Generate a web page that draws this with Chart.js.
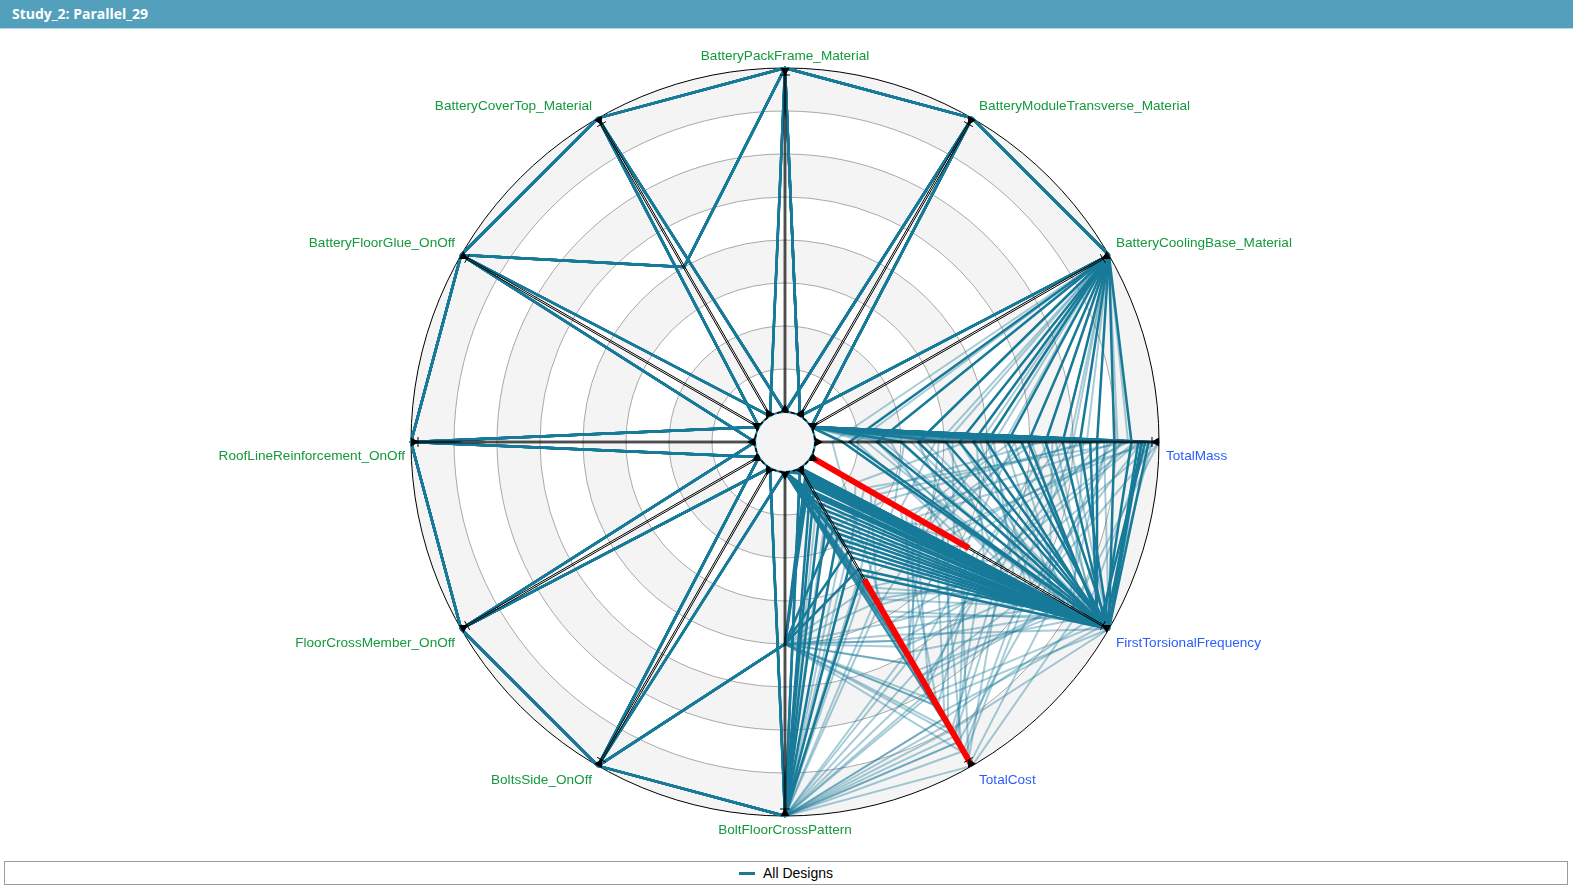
<!DOCTYPE html>
<html>
<head>
<meta charset="utf-8">
<script src="https://cdn.jsdelivr.net/npm/chart.js@4.4.0/dist/chart.umd.min.js"></script>
<style>
  html, body { margin: 0; padding: 0; background: #fff; width: 1573px; height: 889px; overflow: hidden; }
  .title { position: absolute; left: 0; top: 0; width: 1573px; height: 29px; background: #52a0bb; border-bottom: 1px solid #b9d9e4;
           color: #fff; font: bold 14px "Open Sans", "Noto Sans", sans-serif; line-height: 28px; padding-left: 12px; box-sizing: border-box; }
  .chart { position: absolute; left: 0; top: 30px; width: 1573px; height: 822px; }
  .legend { position: absolute; left: 4px; top: 861px; width: 1564px; height: 24px; border: 1px solid #9c9c9c; box-sizing: border-box;
            text-align: center; font: 14px "Liberation Sans", Arial, sans-serif; line-height: 22px; color: #000; }
  .legend .swatch { display: inline-block; width: 16px; height: 3px; background: #1b7a99; vertical-align: middle; margin-right: 8px; position: relative; top: -1px; }
</style>
</head>
<body>
<div class="title">Study_2: Parallel_29</div>
<div class="chart"><canvas id="radar"></canvas></div>
<div class="legend"><span class="swatch"></span>All Designs</div>
<script>
// axes, clockwise from the top
const axisLabels = [
  'BatteryPackFrame_Material', 'BatteryModuleTransverse_Material', 'BatteryCoolingBase_Material',
  'TotalMass', 'FirstTorsionalFrequency', 'TotalCost', 'BoltFloorCrossPattern', 'BoltsSide_OnOff',
  'FloorCrossMember_OnOff', 'RoofLineReinforcement_OnOff', 'BatteryFloorGlue_OnOff', 'BatteryCoverTop_Material'
];
const responseAxes = [3, 4, 5];

// normalised values, one entry per design
const packFrame = [
  1, 0, 1, 1, 1, 0, 0, 1,  1, 0, 1, 1, 1, 0, 0, 1,  1, 0, 1, 1, 1, 0, 0, 1,
  1, 0, 1, 1, 1, 0, 0, 1,  1, 0, 1, 1, 1, 0, 0, 1,  1, 0, 1, 1, 1, 0, 0, 1,
  1, 0, 1, 1, 1, 0, 0, 1,  1, 0, 1, 1,
  1, 0, 1, 1, 1, 0, 0, 1,  1, 0, 1, 1, 1, 0, 0, 1,  1, 0, 1, 1, 1, 0, 0, 1
];
const moduleTransverse = [
  1, 1, 0, 1, 0, 0, 1, 1,  1, 1, 0, 1, 0, 0, 1, 1,  1, 1, 0, 1, 0, 0, 1, 1,
  1, 1, 0, 1, 0, 0, 1, 1,  1, 1, 0, 1, 0, 0, 1, 1,  1, 1, 0, 1, 0, 0, 1, 1,
  1, 1, 0, 1, 0, 0, 1, 1,  1, 1, 0, 1,
  1, 1, 0, 1, 0, 0, 1, 1,  1, 1, 0, 1, 0, 0, 1, 1,  1, 1, 0, 1, 0, 0, 1, 1
];
const coolingBase = [
  1, 1, 1, 1, 1, 1, 1, 1,  1, 1, 1, 1, 0, 0, 0, 0,  0, 0, 0, 0, 0, 1, 0, 1,
  0, 0, 1, 0, 0, 1, 0, 0,  0, 1, 0, 0, 1, 0, 0, 1,  0, 0, 0, 1, 0, 0, 1, 0,
  0, 0, 1, 0, 0, 0, 0, 0,  1, 0, 0, 0,
  0, 1, 0, 0, 1, 0, 0, 0,  0, 0, 1, 0, 0, 0, 1, 0,  0, 0, 0, 1, 0, 0, 0, 0
];
const totalMass = [
  0.18, 0.30, 0.42, 0.50, 0.56, 0.62, 0.67, 0.72,  0.77, 0.82, 0.87, 0.92, 0.94, 0.95, 0.95, 0.96,
  0.97, 0.38, 0.60, 0.25, 0.08, 0.46, 0.80, 0.10,  0.22, 0.35, 0.48, 0.58, 0.66, 0.74, 0.83, 0.90,
  0.99, 0.12, 0.28, 0.44, 0.52, 0.61, 0.70, 0.79,  0.86, 0.93, 1.00, 0.05, 0.32, 0.40, 0.55, 0.64,
  0.76, 0.84, 0.91, 0.97, 0.18, 0.26, 0.47, 0.69,  0.88, 0.95, 0.58, 0.98,
  0.15, 0.38, 0.52, 0.63, 0.72, 0.81, 0.89, 0.96,  0.99, 0.08, 0.30, 0.42, 0.57, 0.66, 0.75, 0.85,
  0.92, 1.00, 0.20, 0.36, 0.50, 0.68, 0.78, 0.94
];
const torsionalFreq = [
  1.00, 0.99, 1.00, 0.98, 1.00, 0.97, 1.00, 0.99,  1.00, 0.96, 1.00, 0.98, 1.00, 0.99, 1.00, 0.97,
  1.00, 1.00, 0.98, 1.00, 0.99, 1.00, 0.96, 1.00,  0.45, 0.30, 0.72, 0.85, 0.20, 1.00, 0.62, 0.50,
  0.35, 0.55, 0.90, 0.15, 0.68, 0.42, 0.95, 0.25,  0.78, 0.60, 0.88, 0.10, 1.00, 0.48, 0.82, 0.38,
  0.70, 1.00, 0.46, 0.92, 0.66, 0.28, 0.58, 0.80,  0.32, 0.74, 0.52, 0.98,
  0.85, 0.64, 0.40, 0.93, 0.56, 0.22, 0.76, 0.44,  0.66, 0.90, 0.52, 0.84, 0.34, 0.97, 0.64, 0.86,
  0.18, 0.76, 0.94, 0.40, 0.74, 0.58, 0.88, 0.62
];
const totalCost = [
  0.30, 0.05, 0.12, 0.00, 0.20, 0.08, 0.26, 0.02,  0.16, 0.34, 0.00, 0.10, 0.04, 0.22, 0.01, 0.14,
  0.06, 0.28, 0.00, 0.18, 0.03, 0.36, 0.09, 0.24,  0.62, 0.80, 0.95, 0.70, 0.45, 0.88, 0.52, 0.98,
  0.75, 0.66, 1.00, 0.30, 0.58, 0.84, 0.48, 0.20,  0.92, 0.40, 0.68, 0.50, 0.78, 0.10, 0.99, 0.62,
  0.44, 0.56, 0.86, 0.50, 0.90, 0.38, 0.74, 0.42,  0.64, 0.96, 0.25, 0.82,
  0.72, 0.88, 0.15, 0.62, 0.80, 0.35, 0.70, 0.94,  0.46, 0.58, 0.92, 0.40, 0.66, 0.76, 0.98, 0.54,
  0.28, 0.60, 0.84, 0.46, 0.52, 0.90, 0.44, 0.72
];
const boltFloorCross = [
  1, 0.5, 1, 0, 0.5, 1, 0, 0,  1, 0.5, 1, 0, 0.5, 1, 0, 0,  1, 0.5, 1, 0, 0.5, 1, 0, 0,
  1, 0.5, 1, 0, 0.5, 1, 0, 0,  1, 0.5, 1, 0, 0.5, 1, 0, 0,  1, 0.5, 1, 0, 0.5, 1, 0, 0,
  1, 0.5, 1, 0, 0.5, 1, 0, 0,  1, 0.5, 1, 0,
  1, 0.5, 1, 0, 0.5, 1, 0, 0,  1, 0.5, 1, 0, 0.5, 1, 0, 0,  1, 0.5, 1, 0, 0.5, 1, 0, 0
];
const boltsSide = [
  1, 1, 0, 1, 1, 1, 0, 0,  1, 1, 0, 1, 1, 1, 0, 0,  1, 1, 0, 1, 1, 1, 0, 0,
  1, 1, 0, 1, 1, 1, 0, 0,  1, 1, 0, 1, 1, 1, 0, 0,  1, 1, 0, 1, 1, 1, 0, 0,
  1, 1, 0, 1, 1, 1, 0, 0,  1, 1, 0, 1,
  1, 1, 0, 1, 1, 1, 0, 0,  1, 1, 0, 1, 1, 1, 0, 0,  1, 1, 0, 1, 1, 1, 0, 0
];
const floorCrossMember = [
  1, 0, 1, 1, 1, 0, 1, 0,  1, 0, 1, 1, 1, 0, 1, 0,  1, 0, 1, 1, 1, 0, 1, 0,
  1, 0, 1, 1, 1, 0, 1, 0,  1, 0, 1, 1, 1, 0, 1, 0,  1, 0, 1, 1, 1, 0, 1, 0,
  1, 0, 1, 1, 1, 0, 1, 0,  1, 0, 1, 1,
  1, 0, 1, 1, 1, 0, 1, 0,  1, 0, 1, 1, 1, 0, 1, 0,  1, 0, 1, 1, 1, 0, 1, 0
];
const roofLine = [
  1, 1, 0, 1, 0, 0, 1, 1,  1, 1, 0, 1, 0, 0, 1, 1,  1, 1, 0, 1, 0, 0, 1, 1,
  1, 1, 0, 1, 0, 0, 1, 1,  1, 1, 0, 1, 0, 0, 1, 1,  1, 1, 0, 1, 0, 0, 1, 1,
  1, 1, 0, 1, 0, 0, 1, 1,  1, 1, 0, 1,
  1, 1, 0, 1, 0, 0, 1, 1,  1, 1, 0, 1, 0, 0, 1, 1,  1, 1, 0, 1, 0, 0, 1, 1
];
const floorGlue = [
  1, 0, 1, 1, 1, 0, 0, 1,  1, 0, 1, 1, 1, 0, 0, 1,  1, 0, 1, 1, 1, 0, 0, 1,
  1, 0, 1, 1, 1, 0, 0, 1,  1, 0, 1, 1, 1, 0, 0, 1,  1, 0, 1, 1, 1, 0, 0, 1,
  1, 0, 1, 1, 1, 0, 0, 1,  1, 0, 1, 1,
  1, 0, 1, 1, 1, 0, 0, 1,  1, 0, 1, 1, 1, 0, 0, 1,  1, 0, 1, 1, 1, 0, 0, 1
];
const coverTop = [
  1, 1, 0.5, 0, 1, 1, 0, 0.5,  1, 1, 0.5, 0, 1, 1, 0, 0.5,  1, 1, 0.5, 0, 1, 1, 0, 0.5,
  1, 1, 0.5, 0, 1, 1, 0, 0.5,  1, 1, 0.5, 0, 1, 1, 0, 0.5,  1, 1, 0.5, 0, 1, 1, 0, 0.5,
  1, 1, 0.5, 0, 1, 1, 0, 0.5,  1, 1, 0.5, 0,
  1, 1, 0.5, 0, 1, 1, 0, 0.5,  1, 1, 0.5, 0, 1, 1, 0, 0.5,  1, 1, 0.5, 0, 1, 1, 0, 0.5
];

// red filter ranges on the response axes; designs inside them are faded
const freqFilter = [0, 0.53];
const costFilter = [0.375, 1];
const ringLevels = [0.125, 0.25, 0.375, 0.5, 0.625, 0.75, 0.875, 1];
const holeMin = -0.0872;

const axisValues = [packFrame, moduleTransverse, coolingBase, totalMass, torsionalFreq, totalCost,
  boltFloorCross, boltsSide, floorCrossMember, roofLine, floorGlue, coverTop];

const inside = (v, r) => v >= r[0] && v <= r[1];

const datasets = totalMass.map((_, d) => {
  const faded = inside(torsionalFreq[d], freqFilter) || inside(totalCost[d], costFilter);
  return {
    label: 'All Designs',
    data: axisValues.map(a => a[d]),
    borderColor: faded ? 'rgba(23,122,153,0.38)' : '#177a99',
    borderWidth: faded ? 2 : 2.5,
    borderJoinStyle: 'round',
    fill: false,
    pointRadius: 0,
    order: faded ? 1 : 0
  };
});

const decor = {
  id: 'decor',
  beforeDatasetsDraw(chart) {
    const s = chart.scales.r, ctx = chart.ctx;
    const cx = s.xCenter, cy = s.yCenter;
    ctx.save();
    // alternating bands
    for (let k = ringLevels.length - 1; k >= 0; k--) {
      const outer = s.getDistanceFromCenterForValue(ringLevels[k]);
      const inner = s.getDistanceFromCenterForValue(k ? ringLevels[k - 1] : 0);
      ctx.beginPath();
      ctx.arc(cx, cy, outer, 0, Math.PI * 2);
      ctx.arc(cx, cy, inner, 0, Math.PI * 2, true);
      ctx.fillStyle = k % 2 ? '#f4f4f4' : '#ffffff';
      ctx.fill();
    }
    ringLevels.forEach((v, k) => {
      ctx.beginPath();
      ctx.arc(cx, cy, s.getDistanceFromCenterForValue(v), 0, Math.PI * 2);
      ctx.strokeStyle = k === ringLevels.length - 1 ? '#000' : '#a8a8a8';
      ctx.lineWidth = 1;
      ctx.stroke();
    });
    ctx.restore();
  },
  afterDatasetsDraw(chart) {
    const s = chart.scales.r, ctx = chart.ctx;
    const cx = s.xCenter, cy = s.yCenter;
    const r0 = s.getDistanceFromCenterForValue(0);
    const r1 = s.getDistanceFromCenterForValue(1);
    ctx.save();
    // axes
    ctx.strokeStyle = '#000';
    ctx.lineWidth = 1;
    axisLabels.forEach((_, i) => {
      const a = s.getPointPosition(i, r0), b = s.getPointPosition(i, r1);
      const nx = -Math.sin(a.angle) * 0.8, ny = Math.cos(a.angle) * 0.8;
      [-1, 1].forEach(sg => {
        ctx.beginPath();
        ctx.moveTo(a.x + sg * nx, a.y + sg * ny);
        ctx.lineTo(b.x + sg * nx, b.y + sg * ny);
        ctx.stroke();
      });
    });
    // filter ranges
    ctx.strokeStyle = '#ff0000';
    ctx.lineWidth = 6;
    ctx.lineCap = 'butt';
    [[4, freqFilter], [5, costFilter]].forEach(([i, rg]) => {
      const a = s.getPointPosition(i, s.getDistanceFromCenterForValue(rg[0]));
      const b = s.getPointPosition(i, s.getDistanceFromCenterForValue(rg[1]));
      ctx.beginPath();
      ctx.moveTo(a.x, a.y);
      ctx.lineTo(b.x, b.y);
      ctx.stroke();
    });
    // hole
    ctx.beginPath();
    ctx.arc(cx, cy, r0, 0, Math.PI * 2);
    ctx.fillStyle = '#f4f4f4';
    ctx.fill();
    ctx.strokeStyle = '#177a99';
    ctx.lineWidth = 2;
    ctx.stroke();
    ctx.setLineDash([4, 3]);
    ctx.strokeStyle = '#000';
    ctx.lineWidth = 1.5;
    ctx.stroke();
    ctx.setLineDash([]);
    // slider handles
    ctx.fillStyle = '#000';
    axisLabels.forEach((_, i) => {
      const ang = s.getPointPosition(i, r1).angle;
      const ux = Math.cos(ang), uy = Math.sin(ang), nx = -uy, ny = ux;
      const tri = (r, dir) => {
        const bx = cx + ux * r, by = cy + uy * r;
        ctx.beginPath();
        ctx.moveTo(bx + nx * 4.5, by + ny * 4.5);
        ctx.lineTo(bx - nx * 4.5, by - ny * 4.5);
        ctx.lineTo(bx + ux * 8 * dir, by + uy * 8 * dir);
        ctx.closePath();
        ctx.fill();
      };
      tri(r0, 1);
      tri(r1, -1);
      ctx.beginPath();
      ctx.moveTo(cx + ux * (r1 - 7) + nx * 5, cy + uy * (r1 - 7) + ny * 5);
      ctx.lineTo(cx + ux * (r1 - 7) - nx * 5, cy + uy * (r1 - 7) - ny * 5);
      ctx.lineWidth = 1;
      ctx.strokeStyle = '#000';
      ctx.stroke();
    });
    // axis titles
    ctx.font = '13.6px "Liberation Sans", Arial, sans-serif';
    ctx.textBaseline = 'middle';
    axisLabels.forEach((label, i) => {
      const p = s.getPointPosition(i, r1);
      const c = Math.cos(p.angle), sn = Math.sin(p.angle);
      let x = p.x;
      if (Math.abs(c) < 0.1) ctx.textAlign = 'center';
      else if (c > 0) { ctx.textAlign = 'left'; x += 7; }
      else { ctx.textAlign = 'right'; x -= 6; }
      const y = sn < -0.01 ? p.y - 12 : p.y + 14;
      ctx.fillStyle = responseAxes.includes(i) ? '#2a5cff' : '#14993c';
      ctx.fillText(label, x, y);
    });
    ctx.restore();
  }
};

new Chart(document.getElementById('radar'), {
  type: 'radar',
  data: { labels: axisLabels, datasets: datasets },
  options: {
    responsive: true,
    maintainAspectRatio: false,
    animation: false,
    layout: { padding: { top: 38, bottom: 36, left: 0, right: 3 } },
    plugins: { legend: { display: false }, tooltip: { enabled: false } },
    elements: { line: { tension: 0 } },
    scales: {
      r: {
        min: holeMin,
        max: 1,
        ticks: { display: false },
        grid: { display: false },
        angleLines: { display: false },
        pointLabels: { display: false }
      }
    }
  },
  plugins: [decor]
});
</script>
</body>
</html>
